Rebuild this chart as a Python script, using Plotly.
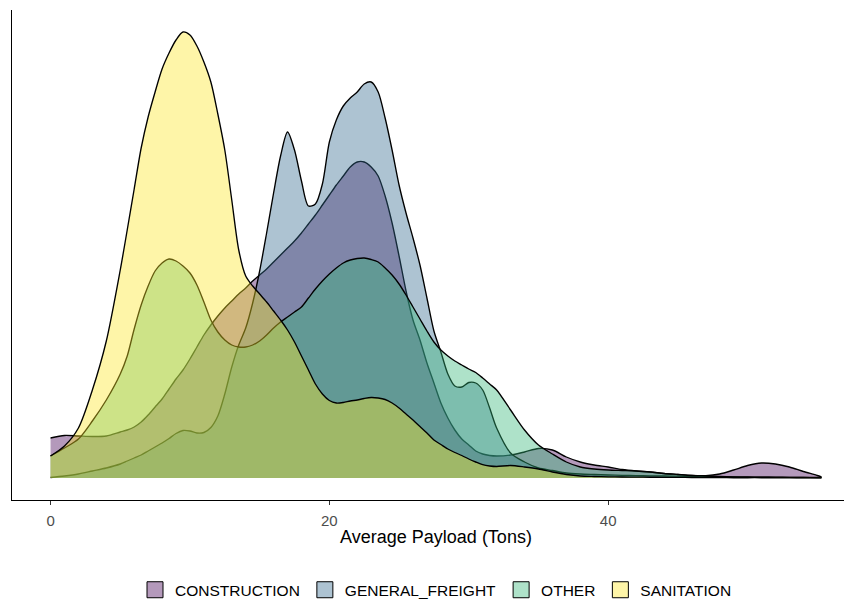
import plotly.graph_objects as go

# Shared evaluation grid (Average Payload, tons)
payload = [0, 1, 2, 3, 4, 5, 5.5, 6, 6.5, 7, 7.5, 8, 8.5, 9, 9.5, 10, 10.5, 11, 11.5, 12,
           12.5, 13, 13.5, 14, 14.5, 15, 15.5, 16, 16.5, 17, 17.5, 18, 18.5, 19, 19.5, 20,
           20.5, 21, 21.5, 22, 22.5, 23, 23.5, 24, 24.5, 25, 25.5, 26, 26.5, 27, 27.5, 28,
           28.5, 29, 29.5, 30, 30.5, 31, 31.5, 32, 33, 34, 35, 36, 37, 38, 39, 40, 41, 42,
           43, 44, 45, 46, 47, 48, 49, 50, 51, 52, 53, 54, 55, 55.3]

# Kernel density estimates (values x 1/4500)
construction = [40, 42.5, 42, 41.5, 42, 46, 48, 51, 56, 63, 71, 79, 89, 99, 108, 119, 131, 143, 153, 162,
                170, 177, 184, 190, 197, 203, 209, 216, 223, 230, 237, 245, 254, 263, 273, 283,
                293, 302, 311, 316, 316, 311, 302, 282, 255, 222, 187, 158, 138, 115, 95, 75,
                60, 48, 39, 33, 27, 24, 22.5, 22, 23, 26, 29.5, 28, 21, 16, 13, 11, 8.5, 7,
                6, 4.5, 3.5, 2.5, 2.3, 4, 8, 12.5, 15, 14, 11, 6.5, 2.5, 1]
general_freight = [0.5, 2, 4, 7, 10, 14, 17, 20, 23, 27, 31, 35, 39.5, 44.5, 47.5, 47, 45, 45.5, 50.5, 62,
                   84, 111, 133, 150, 175, 207, 245, 285, 322, 346, 328, 297, 272, 274, 294, 336,
                   358, 372, 380, 386, 394, 396, 386, 360, 328, 293, 265, 240, 213, 180, 147, 126,
                   104, 92, 91, 95.5, 95, 88, 70, 50, 25, 16, 10, 7.5, 5, 4, 3.5, 3, 2.7, 2.4,
                   2.2, 2, 1.8, 1.6, 1.4, 1.2, 1, 0.9, 0.8, 0.7, 0.6, 0.5, 0.4, 0.4]
other = [22, 30, 39, 57, 78, 104, 122, 149, 173, 192, 207, 215, 219, 217, 212, 205, 193, 176, 158, 146,
         138, 133, 131, 131, 133, 137, 143, 150, 156, 161, 166, 171, 180, 189, 197, 204,
         210, 215, 218, 219.5, 220, 218.5, 216, 210, 203, 194, 183, 171, 159, 147, 136, 128,
         122, 117, 113, 109, 105.5, 100, 94, 88, 68, 48, 33, 24, 16, 11, 9, 8, 7.5, 7,
         6, 4.5, 3.5, 2.5, 2, 1.5, 1.2, 1, 0.9, 0.8, 0.7, 0.6, 0.5, 0.5]
sanitation = [22, 32, 50, 88, 137, 208, 248, 289, 330, 361, 386, 409, 425, 438, 446, 443, 432, 416, 396, 364,
              328, 278, 228, 202, 192, 184, 176, 167, 158, 148, 136, 122, 108, 94, 84, 77.5,
              75, 75.5, 77, 78, 79.5, 80.5, 80, 78.5, 75, 70, 64, 58, 51.5, 45, 38, 33.5,
              29, 25.5, 22.5, 19, 16, 13.3, 12, 11.5, 12.5, 11, 9, 6, 3.5, 2, 1.5, 1.2, 1, 0.9,
              0.8, 0.7, 0.6, 0.5, 0.4, 0.4, 0.3, 0.3, 0.3, 0.2, 0.2, 0.2, 0.2, 0.2]

categories = ["CONSTRUCTION", "GENERAL_FREIGHT", "OTHER", "SANITATION"]
series = [construction, general_freight, other, sanitation]
colors = ["68,1,84", "49,104,142", "53,183,121", "253,231,37"]
SCALE = 4500.0

x_ticks = [0, 20, 40]

fig = go.Figure()
for name, vals, rgb in zip(categories, series, colors):
    fig.add_trace(go.Scatter(
        x=payload, y=[v / SCALE for v in vals], mode="lines", name=name,
        line=dict(color="black", width=1.35, shape="spline", smoothing=0.8),
        fill="tozeroy", fillcolor=f"rgba({rgb},0.4)",
        showlegend=False, hoverinfo="skip"))

for name, rgb in zip(categories, colors):
    fig.add_trace(go.Scatter(
        x=[None], y=[None], mode="markers", name=name,
        marker=dict(symbol="square", size=16, color=f"rgba({rgb},0.4)",
                    line=dict(color="black", width=1)),
        showlegend=True))

fig.update_layout(
    width=852, height=605,
    margin=dict(l=4, r=0, t=2, b=113),
    plot_bgcolor="white", paper_bgcolor="white",
    font=dict(family="Liberation Sans, Arial, sans-serif", color="black"),
    xaxis=dict(range=[-2.765, 58.065], tickvals=x_ticks, ticktext=[str(t) for t in x_ticks],
               showline=True, linecolor="black", linewidth=1.2, ticks="outside", ticklen=4,
               tickcolor="#333333", tickwidth=1.2, tickfont=dict(size=15, color="#4d4d4d"),
               ticklabelstandoff=3,
               showgrid=False, zeroline=False,
               title=dict(text="Average Payload (Tons)", font=dict(size=18, color="black"), standoff=2)),
    yaxis=dict(range=[-22 / SCALE, 468 / SCALE], showline=True, linecolor="black", linewidth=1.2,
               showticklabels=False, ticks="", showgrid=False, zeroline=False),
    legend=dict(orientation="h", x=0.5, xanchor="center", y=-0.184, yanchor="middle",
                font=dict(size=15.5, color="black"), itemsizing="trace", bgcolor="rgba(0,0,0,0)"),
)

fig.write_html("out.html")
